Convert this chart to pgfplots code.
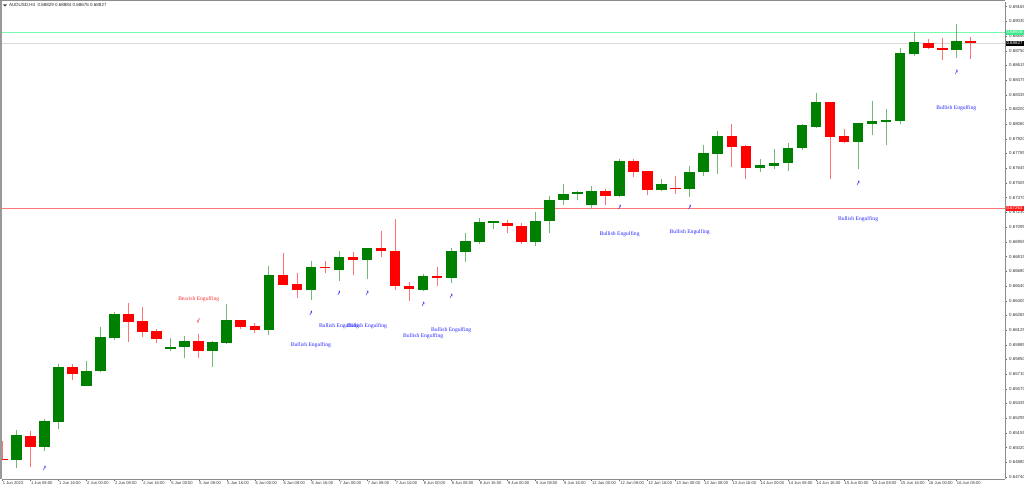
\documentclass[border=0pt]{standalone}
\usepackage{pgfplots}
\usepackage{pgfplotstable}
\usepackage{fontspec}
\pgfplotsset{compat=1.18}
\setmainfont{Liberation Sans}
\newfontfamily\serifl{Liberation Serif}
\newfontfamily\djv{DejaVu Sans}
\definecolor{cg}{RGB}{0,128,0}
\definecolor{cr}{RGB}{255,0,0}
\definecolor{lblue}{RGB}{40,40,255}
\definecolor{lred}{RGB}{255,50,50}
\pgfplotstableread{
x open high low close
1 0.64906 0.65185 0.64824 0.65135
3 0.65025 0.65291 0.64987 0.65266
4 0.65260 0.65802 0.65191 0.65774
6 0.65598 0.65830 0.65598 0.65742
7 0.65739 0.66150 0.65730 0.66056
8 0.66046 0.66294 0.66034 0.66275
12 0.65946 0.66046 0.65930 0.65962
13 0.65962 0.66068 0.65858 0.66024
15 0.65927 0.66018 0.65777 0.66012
16 0.66003 0.66366 0.65999 0.66216
19 0.66125 0.66727 0.66081 0.66639
22 0.66501 0.66774 0.66407 0.66717
24 0.66689 0.66868 0.66589 0.66816
26 0.66784 0.66897 0.66605 0.66897
30 0.66498 0.66649 0.66490 0.66636
32 0.66611 0.66897 0.66571 0.66865
33 0.66862 0.67038 0.66765 0.66959
34 0.66953 0.67175 0.66931 0.67138
35 0.67132 0.67154 0.67078 0.67147
38 0.66956 0.67235 0.66915 0.67150
39 0.67147 0.67389 0.67041 0.67348
40 0.67345 0.67501 0.67304 0.67407
41 0.67404 0.67432 0.67351 0.67420
42 0.67301 0.67476 0.67266 0.67436
44 0.67382 0.67730 0.67379 0.67715
47 0.67439 0.67545 0.67429 0.67498
49 0.67454 0.67667 0.67373 0.67611
50 0.67608 0.67865 0.67573 0.67786
51 0.67780 0.67996 0.67595 0.67946
54 0.67651 0.67733 0.67611 0.67673
55 0.67670 0.67824 0.67642 0.67698
56 0.67692 0.67883 0.67620 0.67840
57 0.67833 0.68065 0.67821 0.68050
58 0.68037 0.68354 0.68031 0.68266
61 0.67893 0.68071 0.67642 0.68068
62 0.68065 0.68278 0.67959 0.68087
63 0.68081 0.68203 0.67865 0.68100
64 0.68090 0.68777 0.68062 0.68730
65 0.68720 0.68927 0.68701 0.68830
68 0.68755 0.68999 0.68683 0.68839
}\bull
\pgfplotstableread{
x open high low close
0 0.64915 0.65081 0.64905 0.64905
2 0.65128 0.65175 0.64837 0.65025
5 0.65777 0.65802 0.65655 0.65708
9 0.66275 0.66376 0.66015 0.66200
10 0.66209 0.66341 0.66059 0.66106
11 0.66115 0.66131 0.65999 0.66043
14 0.66024 0.66087 0.65865 0.65930
17 0.66216 0.66222 0.66131 0.66153
18 0.66159 0.66187 0.66097 0.66122
20 0.66642 0.66846 0.66551 0.66551
21 0.66557 0.66658 0.66429 0.66501
23 0.66720 0.66774 0.66658 0.66705
25 0.66812 0.66862 0.66640 0.66784
27 0.66897 0.67053 0.66812 0.66865
28 0.66871 0.67169 0.66505 0.66536
29 0.66539 0.66577 0.66401 0.66511
31 0.66636 0.66718 0.66536 0.66611
36 0.67132 0.67163 0.67034 0.67100
37 0.67103 0.67132 0.66931 0.66956
43 0.67429 0.67451 0.67301 0.67382
45 0.67715 0.67730 0.67564 0.67608
46 0.67617 0.67617 0.67398 0.67439
48 0.67461 0.67574 0.67404 0.67454
52 0.67946 0.68065 0.67655 0.67846
53 0.67852 0.67868 0.67548 0.67648
59 0.68266 0.68266 0.67545 0.67943
60 0.67949 0.68015 0.67887 0.67893
66 0.68824 0.68861 0.68764 0.68774
67 0.68777 0.68871 0.68664 0.68761
69 0.68838 0.68884 0.68676 0.68821
}\bear
\pgfplotstableread{
x y
3 0.64818
22 0.66275
24 0.66461
26 0.66464
30 0.66363
32 0.66435
44 0.67272
49 0.67275
61 0.67501
68 0.68542
}\bullmark
\pgfplotstableread{
x y
14 0.66212
}\bearmark
\pgfplotsset{
  candle/.style n args={3}{forget plot,draw=none,no markers,
    error bars/.cd,#1,y explicit,
    error mark=*,error mark options={draw=none,fill=none,mark size=0pt},
    error bar style={line width=#2,draw=#3}}
}
\begin{document}
\begin{tikzpicture}[x=1pt,y=1pt]
\useasboundingbox (0,0) rectangle (1024,486);
\begin{axis}[
  at={(2pt,7pt)}, anchor=south west,
  scale only axis, width=1003pt, height=477pt,
  xmin=-0.021, xmax=71.47, ymin=0.64724, ymax=0.69209,
  axis line style={draw=black!45,line width=0.7pt},
  axis y line*=right, axis x line*=bottom,
  tick style={draw=black!60,line width=0.4pt},
  tick align=outside, major tick length=2pt,
  ytick={0.69165,0.69030,0.68890,0.68750,0.68615,0.68475,0.68335,0.68200,0.68060,0.67920,0.67785,0.67645,0.67505,0.67370,0.67230,0.67095,0.66955,0.66815,0.66680,0.66540,0.66400,0.66265,0.66125,0.65985,0.65850,0.65710,0.65570,0.65435,0.65295,0.65155,0.65020,0.64880,0.64740},
  yticklabels={0.69165,0.69030,0.68890,0.68750,0.68615,0.68475,0.68335,0.68200,0.68060,0.67920,0.67785,0.67645,0.67505,0.67370,0.67230,0.67095,0.66955,0.66815,0.66680,0.66540,0.66400,0.66265,0.66125,0.65985,0.65850,0.65710,0.65570,0.65435,0.65295,0.65155,0.65020,0.64880,0.64740},
  yticklabel style={font=\fontsize{4.4}{5}\selectfont,text=black!80,inner sep=0pt,xshift=2pt},
  xtick={0,2,...,68},
  xticklabels={1 Jun 2023,1 Jun 08:00,1 Jun 16:00,2 Jun 00:00,2 Jun 08:00,2 Jun 16:00,5 Jun 00:00,5 Jun 08:00,5 Jun 16:00,6 Jun 00:00,6 Jun 08:00,6 Jun 16:00,7 Jun 00:00,7 Jun 08:00,7 Jun 16:00,8 Jun 00:00,8 Jun 08:00,8 Jun 16:00,9 Jun 00:00,9 Jun 08:00,9 Jun 16:00,12 Jun 00:00,12 Jun 08:00,12 Jun 16:00,13 Jun 00:00,13 Jun 08:00,13 Jun 16:00,14 Jun 00:00,14 Jun 08:00,14 Jun 16:00,15 Jun 00:00,15 Jun 08:00,15 Jun 16:00,16 Jun 00:00,16 Jun 08:00},
  xticklabel style={font=\fontsize{4.1}{5}\selectfont,text=black!80,anchor=north west,inner sep=0pt,xshift=0.5pt,yshift=-0.5pt},
]
% horizontal levels
\addplot[forget plot,draw={rgb,255:red,255;green,120;blue,120},line width=0.7pt] coordinates {(-0.021,0.67268) (71.47,0.67268)};
\addplot[forget plot,draw={rgb,255:red,120;green,250;blue,175},line width=0.7pt] coordinates {(-0.021,0.68924) (71.47,0.68924)};
\addplot[forget plot,draw=black!15,line width=0.7pt] coordinates {(-0.021,0.68821) (71.47,0.68821)};
% wicks
\addplot[candle={y dir=both}{0.7pt}{cg!55}]
  table[x=x,y=open,y error plus expr=\thisrow{high}-\thisrow{open},y error minus expr=\thisrow{open}-\thisrow{low}] {\bull};
\addplot[candle={y dir=both}{0.7pt}{cr!55}]
  table[x=x,y=open,y error plus expr=\thisrow{high}-\thisrow{open},y error minus expr=\thisrow{open}-\thisrow{low}] {\bear};
% bodies
\addplot[candle={y dir=plus}{10.6pt}{cg}]
  table[x=x,y=open,y error plus expr=\thisrow{close}-\thisrow{open}] {\bull};
\addplot[candle={y dir=plus}{10.6pt}{cr}]
  table[x=x,y=close,y error plus expr=\thisrow{open}-\thisrow{close}] {\bear};
% pattern icons
\addplot[forget plot,only marks,mark=text,text mark={\scalebox{0.6}[1.15]{\textcolor{lblue}{\djv\bfseries\fontsize{7}{7}\selectfont ↗}}}] table[x=x,y=y] {\bullmark};
\addplot[forget plot,only marks,mark=text,text mark={\scalebox{0.6}[1.15]{\textcolor{lred}{\djv\bfseries\fontsize{7}{7}\selectfont ↙}}}] table[x=x,y=y] {\bearmark};
% labels
\node[text=lred,font=\serifl\fontsize{5.6}{6}\selectfont,inner sep=0pt] at (axis cs:14,0.66419) {Bearish Engulfing};
\node[text=lblue,font=\serifl\fontsize{5.6}{6}\selectfont,inner sep=0pt] at (axis cs:22,0.65984) {Bullish Engulfing};
\node[text=lblue,font=\serifl\fontsize{5.6}{6}\selectfont,inner sep=0pt] at (axis cs:24,0.66163) {Bullish Engulfing};
\node[text=lblue,font=\serifl\fontsize{5.6}{6}\selectfont,inner sep=0pt] at (axis cs:26,0.66163) {Bullish Engulfing};
\node[text=lblue,font=\serifl\fontsize{5.6}{6}\selectfont,inner sep=0pt] at (axis cs:30,0.66071) {Bullish Engulfing};
\node[text=lblue,font=\serifl\fontsize{5.6}{6}\selectfont,inner sep=0pt] at (axis cs:32,0.66125) {Bullish Engulfing};
\node[text=lblue,font=\serifl\fontsize{5.6}{6}\selectfont,inner sep=0pt] at (axis cs:44,0.67028) {Bullish Engulfing};
\node[text=lblue,font=\serifl\fontsize{5.6}{6}\selectfont,inner sep=0pt] at (axis cs:49,0.67047) {Bullish Engulfing};
\node[text=lblue,font=\serifl\fontsize{5.6}{6}\selectfont,inner sep=0pt] at (axis cs:61,0.67169) {Bullish Engulfing};
\node[text=lblue,font=\serifl\fontsize{5.6}{6}\selectfont,inner sep=0pt] at (axis cs:68,0.68215) {Bullish Engulfing};
\end{axis}
% chart frame, header and price tags
\fill[black!40] (0,7) rectangle (2,486);
\fill[black!45] (0,484.6) rectangle (1005.3,486);
\fill[black!75] (3.2,481.5) -- (6.8,481.5) -- (5,479.3) -- cycle;
\node[anchor=west,inner sep=0pt,font=\fontsize{4.5}{5}\selectfont,text=black!85] at (9,480.6) {AUDUSD,H4\ \ 0.68829 0.68884 0.68676 0.68827};
\node[anchor=west,fill={rgb,255:red,60;green,235;blue,140},text=white,inner sep=0pt,minimum height=5.6pt,minimum width=18pt,font=\fontsize{4.4}{5}\selectfont] at (1005.3,453.6) {0.68925};
\node[anchor=west,fill=black,text=white,inner sep=0pt,minimum height=5.6pt,minimum width=18pt,font=\fontsize{4.4}{5}\selectfont] at (1005.3,442.6) {0.68827};
\node[anchor=west,fill=red!90,text=white,inner sep=0pt,minimum height=5.6pt,minimum width=18pt,font=\fontsize{4.4}{5}\selectfont] at (1005.3,277.6) {0.67263};
\end{tikzpicture}
\end{document}
